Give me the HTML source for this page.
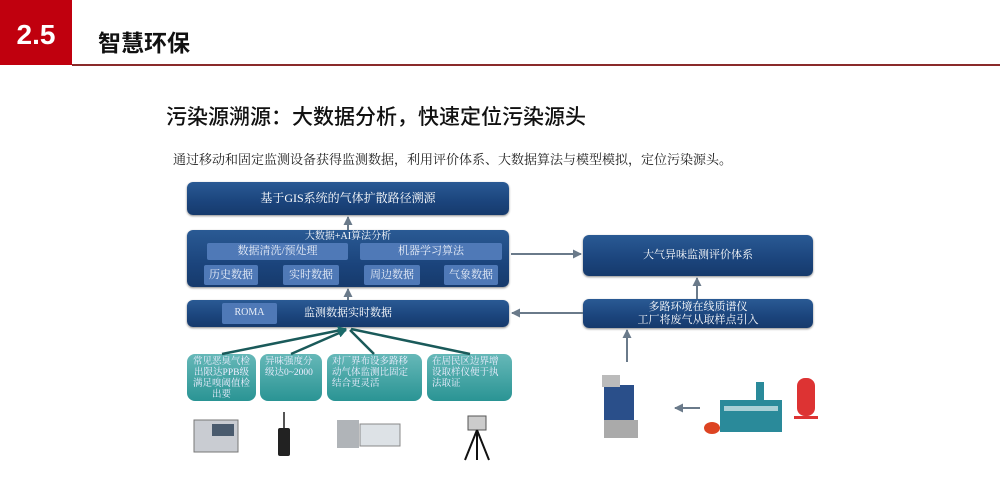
<!DOCTYPE html>
<html><head><meta charset="utf-8"><style>
body{margin:0;width:1000px;height:492px;background:#fff;position:relative;overflow:hidden;font-family:"Liberation Serif","Noto Serif CJK SC",serif}
.a{position:absolute}
.nb{position:absolute;background:linear-gradient(#2a5a94,#1b447c 60%,#163a6c);border-radius:6px;color:#fff;font-size:11px;text-align:center;box-shadow:0 1px 2px #888}
.sb{position:absolute;background:#4f79b7;color:#e8eef8;font-size:11px;text-align:center;border-radius:2px}
.tb{position:absolute;background:linear-gradient(#66b8b8,#2a9494);border-radius:8px;color:#eef;font-size:9.5px;line-height:11px;padding:3px 5px;box-sizing:border-box}
</style></head><body>
<div class="a" style="left:0;top:0;width:72px;height:65px;background:#c0000e"></div>
<div class="a" style="left:0;top:19px;width:72px;text-align:center;color:#fff;font:bold 28px 'Liberation Sans',sans-serif">2.5</div>
<div class="a" style="left:72px;top:64px;width:928px;height:2px;background:#8a2a2a"></div>
<div class="a" style="left:98px;top:24px;font:bold 23px 'Liberation Sans','Noto Sans CJK SC',sans-serif;color:#111">智慧环保</div>
<div class="a" style="left:166px;top:101px;font-size:21px;color:#111;font-weight:500;font-family:'Liberation Sans','Noto Sans CJK SC',sans-serif">污染源溯源：大数据分析，快速定位污染源头</div>
<div class="a" style="left:173px;top:149px;font-size:13px;color:#222">通过移动和固定监测设备获得监测数据，利用评价体系、大数据算法与模型模拟，定位污染源头。</div>

<div class="nb" style="left:187px;top:182px;width:322px;height:33px;line-height:33px;font-size:12px">基于GIS系统的气体扩散路径溯源</div>
<div class="nb" style="left:187px;top:230px;width:322px;height:57px"><div style="line-height:13px;font-size:10px">大数据+AI算法分析</div></div>
<div class="sb" style="left:207px;top:243px;width:141px;height:17px;line-height:17px">数据清洗/预处理</div>
<div class="sb" style="left:360px;top:243px;width:142px;height:17px;line-height:17px">机器学习算法</div>
<div class="sb" style="left:204px;top:265px;width:54px;height:20px;line-height:20px">历史数据</div>
<div class="sb" style="left:283px;top:265px;width:56px;height:20px;line-height:20px">实时数据</div>
<div class="sb" style="left:364px;top:265px;width:56px;height:20px;line-height:20px">周边数据</div>
<div class="sb" style="left:444px;top:265px;width:54px;height:20px;line-height:20px">气象数据</div>
<div class="nb" style="left:187px;top:300px;width:322px;height:27px;line-height:27px">监测数据实时数据</div>
<div class="sb" style="left:222px;top:303px;width:55px;height:21px;line-height:20px;font-size:10px">ROMA</div>

<div class="nb" style="left:583px;top:235px;width:230px;height:41px;line-height:41px">大气异味监测评价体系</div>
<div class="nb" style="left:583px;top:299px;width:230px;height:29px;line-height:13px;padding-top:2px;box-sizing:border-box">多路环境在线质谱仪<br>工厂将废气从取样点引入</div>

<div class="tb" style="left:187px;top:354px;width:69px;height:47px;text-align:center">常见恶臭气检出限达PPB级满足嗅阈值检出要</div>
<div class="tb" style="left:260px;top:354px;width:62px;height:47px">异味强度分级达0~2000</div>
<div class="tb" style="left:327px;top:354px;width:95px;height:47px">对厂界布设多路移动气体监测比固定结合更灵活</div>
<div class="tb" style="left:427px;top:354px;width:85px;height:47px">在居民区边界增设取样仪便于执法取证</div>

<svg class="a" style="left:0;top:0" width="1000" height="492">
<defs><marker id="m" markerUnits="userSpaceOnUse" markerWidth="9" markerHeight="9" refX="8" refY="4.5" orient="auto"><path d="M0,0L9,4.5L0,9z" fill="#6a7a8a"/></marker>
<marker id="t" markerUnits="userSpaceOnUse" markerWidth="9" markerHeight="9" refX="8" refY="4.5" orient="auto"><path d="M0,0L9,4.5L0,9z" fill="#1a6a6a"/></marker></defs>
<g stroke="#6a7a8a" stroke-width="2" fill="none">
<line x1="348" y1="230" x2="348" y2="217" marker-end="url(#m)"/>
<line x1="348" y1="300" x2="348" y2="289" marker-end="url(#m)"/>
<line x1="511" y1="254" x2="581" y2="254" marker-end="url(#m)"/>
<line x1="583" y1="313" x2="512" y2="313" marker-end="url(#m)"/>
<line x1="697" y1="299" x2="697" y2="278" marker-end="url(#m)"/>
<line x1="627" y1="362" x2="627" y2="330" marker-end="url(#m)"/>
<line x1="700" y1="408" x2="675" y2="408" marker-end="url(#m)"/>
</g>
<g stroke="#1a5a5a" stroke-width="2.5">
<line x1="222" y1="354" x2="346" y2="329" marker-end="url(#t)"/>
<line x1="291" y1="354" x2="346" y2="330" marker-end="url(#t)"/>
<line x1="374" y1="354" x2="350" y2="330"/>
<line x1="470" y1="354" x2="351" y2="329"/>
</g>
<rect x="194" y="420" width="44" height="32" fill="#c9ccd2" stroke="#777"/><rect x="212" y="424" width="22" height="12" fill="#4a5b6e"/>
<rect x="278" y="428" width="12" height="28" rx="2" fill="#222"/><rect x="283" y="412" width="2" height="16" fill="#555"/>
<rect x="337" y="420" width="22" height="28" fill="#b0b4b8"/><rect x="360" y="424" width="40" height="22" fill="#dde2e6" stroke="#888"/>
<rect x="468" y="416" width="18" height="14" fill="#ccc" stroke="#555"/><path d="M477 430L465 460M477 430L489 460M477 430V460" stroke="#111" stroke-width="2"/>
<rect x="604" y="385" width="30" height="35" fill="#2a4f8a"/><rect x="602" y="375" width="18" height="12" fill="#bbb"/><rect x="604" y="420" width="34" height="18" fill="#aaa"/>
<rect x="720" y="400" width="62" height="32" fill="#2a8a9a"/><rect x="756" y="382" width="8" height="20" fill="#2a8a9a"/>
<rect x="724" y="406" width="54" height="5" fill="#fff" opacity=".6"/>
<ellipse cx="712" cy="428" rx="8" ry="6" fill="#d42"/>
<rect x="797" y="378" width="18" height="38" rx="8" fill="#d33"/><rect x="794" y="416" width="24" height="3" fill="#d33"/>
</svg>
</body></html>
